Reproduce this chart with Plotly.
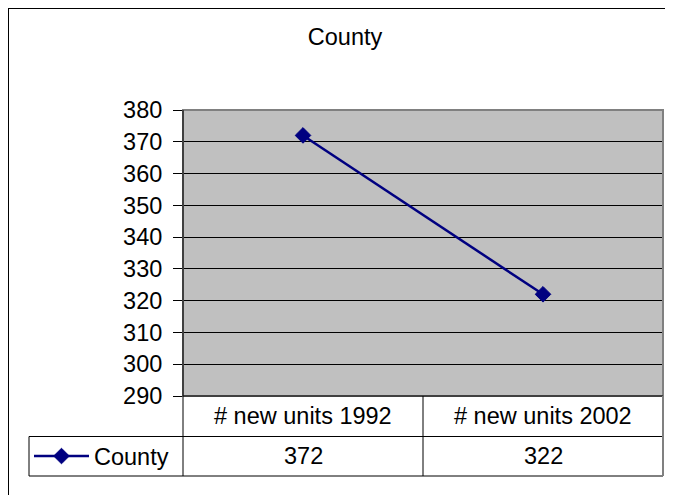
import plotly.graph_objects as go

categories = ["# new units 1992", "# new units 2002"]
series_name = "County"
values = [372, 322]
y_ticks = [290, 300, 310, 320, 330, 340, 350, 360, 370, 380]

W, H = 673, 495
FONT = "Liberation Sans, Arial, sans-serif"
FS = 23.5
NAVY = "#000080"

def px(x):
    return x / W

def py(y):
    return (H - y) / H

# layout positions in figure pixels
PL, PR, PT, PB = 175, 655, 102, 388
R1, R2 = 428.5, 468
LEG_L = 21

fig = go.Figure()
fig.add_trace(go.Scatter(
    x=categories, y=values, name=series_name, mode="lines+markers",
    line=dict(color=NAVY, width=2.5),
    marker=dict(symbol="diamond", size=12, color=NAVY, line=dict(color=NAVY, width=1)),
    showlegend=True,
))

shapes = []
# outer chart border
shapes.append(dict(type="rect", xref="paper", yref="paper", x0=0, x1=1, y0=0, y1=1,
                   line=dict(color="black", width=2), layer="below"))
# plot area border
shapes.append(dict(type="rect", xref="paper", yref="paper", x0=px(PL), x1=px(PR), y0=py(PB), y1=py(PT),
                   line=dict(color="#808080", width=2)))

def hline(y, x0, x1, color="black"):
    shapes.append(dict(type="line", xref="paper", yref="paper", x0=px(x0), x1=px(x1), y0=py(y), y1=py(y),
                       line=dict(color=color, width=1)))

def vline(x, y0, y1, color="black", w=1):
    shapes.append(dict(type="line", xref="paper", yref="paper", x0=px(x), x1=px(x), y0=py(y0), y1=py(y1),
                       line=dict(color=color, width=w)))

hline(PB, PL, PR)
hline(R1, LEG_L, PR)
hline(R2, LEG_L, PR)
vline(LEG_L, R1, R2)
vline(PL, PT, R2)
vline((PL + PR) / 2, PB, R2)
vline(PR, PB, R2, color="#808080", w=2)

annotations = []
for c, v in zip(categories, values):
    annotations.append(dict(x=c, xref="x", y=py((PB + R1) / 2), yref="paper", text=c, showarrow=False,
                            xanchor="center", yanchor="middle", font=dict(family=FONT, size=FS, color="black")))
    annotations.append(dict(x=c, xref="x", y=py((R1 + R2) / 2), yref="paper", text=str(v), showarrow=False,
                            xanchor="center", yanchor="middle", font=dict(family=FONT, size=FS, color="black")))

fig.update_layout(
    width=W, height=H,
    margin=dict(l=0, r=0, t=0, b=0, pad=0, autoexpand=False),
    paper_bgcolor="white",
    plot_bgcolor="#C0C0C0",
    font=dict(family=FONT, size=FS, color="black"),
    title=dict(text="County", x=px(337), y=py(29), xanchor="center", yanchor="middle",
               xref="paper", yref="paper", automargin=False,
               font=dict(family=FONT, size=FS, color="black")),
    xaxis=dict(domain=[px(PL), px(PR)], type="category", range=[-0.5, 1.5], automargin=False,
               showticklabels=False, showgrid=False, zeroline=False, ticks=""),
    yaxis=dict(domain=[py(PB), py(PT)], range=[290, 380], tickvals=y_ticks, automargin=False,
               showgrid=True, gridcolor="black", gridwidth=1, zeroline=False,
               showline=True, linecolor="black", linewidth=1,
               ticks="outside", ticklen=9, tickcolor="black", tickwidth=1,
               ticklabelstandoff=6, tickfont=dict(family=FONT, size=FS, color="black")),
    legend=dict(x=px(LEG_L), y=py((R1 + R2) / 2), xanchor="left", yanchor="middle",
                bgcolor="rgba(0,0,0,0)", borderwidth=0, itemwidth=55,
                font=dict(family=FONT, size=FS, color="black")),
    shapes=shapes,
    annotations=annotations,
)

fig.write_html("out.html")
